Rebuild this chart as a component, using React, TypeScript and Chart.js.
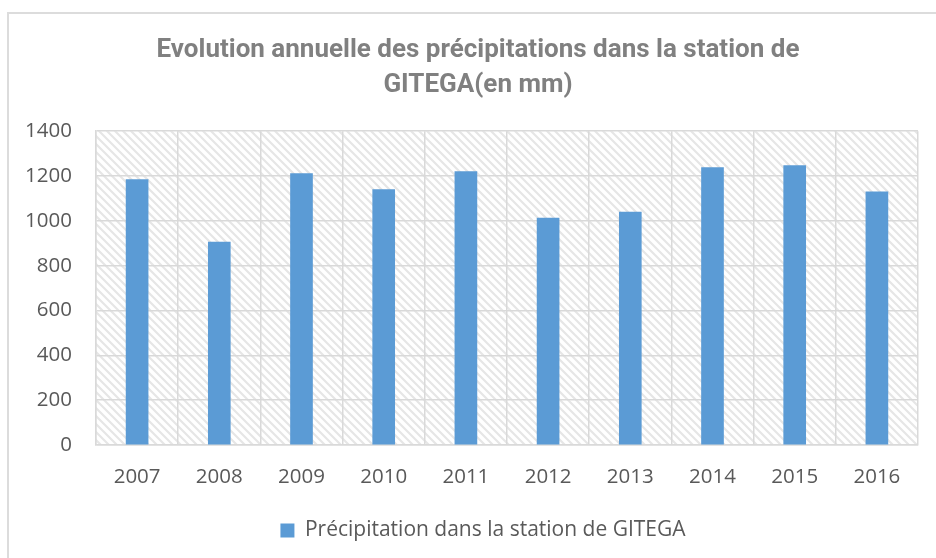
import React, { useEffect, useRef } from "react";
import { Chart, registerables } from "chart.js";

Chart.register(...registerables);

const categories = ["2007", "2008", "2009", "2010", "2011", "2012", "2013", "2014", "2015", "2016"];
const precipitation = [1184, 905, 1211, 1139, 1220, 1012, 1039, 1238, 1247, 1130];
const seriesLabel = "Précipitation dans la station de GITEGA";
const titleLines = ["Evolution annuelle des précipitations dans la station de", "GITEGA(en mm)"];
const yTicks = [0, 200, 400, 600, 800, 1000, 1200, 1400];

function makePattern(): CanvasPattern | string {
  const c = document.createElement("canvas");
  c.width = 8;
  c.height = 8;
  const ctx = c.getContext("2d");
  if (!ctx) return "#ffffff";
  ctx.fillStyle = "#ffffff";
  ctx.fillRect(0, 0, 8, 8);
  ctx.strokeStyle = "#e6e6e6";
  ctx.lineWidth = 2.2;
  ctx.beginPath();
  ctx.moveTo(-2, -2);
  ctx.lineTo(10, 10);
  ctx.moveTo(-2, 6);
  ctx.lineTo(2, 10);
  ctx.moveTo(6, -2);
  ctx.lineTo(10, 2);
  ctx.stroke();
  const p = ctx.createPattern(c, "repeat");
  return p || "#ffffff";
}

const hatchPlugin = {
  id: "hatchBg",
  afterLayout(chart: any) {
    const t = chart.titleBlock;
    if (t) {
      t.left = 38;
      t.right = 918;
    }
    const l = chart.legend;
    if (l) {
      l.left += 24;
      l.right += 24;
    }
  },
  beforeDraw(chart: any) {
    const { ctx, chartArea } = chart;
    if (!chartArea) return;
    ctx.save();
    ctx.fillStyle = makePattern();
    ctx.fillRect(chartArea.left, chartArea.top, chartArea.right - chartArea.left, chartArea.bottom - chartArea.top);
    ctx.restore();
  },
};

const tickFont = { family: "'Open Sans', 'Noto Sans', sans-serif", size: 20.5 };

export default function App() {
  const ref = useRef<HTMLCanvasElement | null>(null);
  useEffect(() => {
    if (!ref.current) return;
    const chart = new Chart(ref.current, {
      type: "bar",
      data: {
        labels: categories,
        datasets: [
          {
            label: seriesLabel,
            data: precipitation,
            backgroundColor: "#5B9BD5",
            borderWidth: 0,
            barThickness: 22,
          },
        ],
      },
      options: {
        animation: false,
        responsive: false,
        layout: { padding: { left: 0, right: 18, top: 0, bottom: 7 } },
        plugins: {
          title: {
            display: true,
            text: titleLines,
            color: "#808080",
            font: { family: "Roboto, 'Liberation Sans', sans-serif", size: 26, weight: "bold", lineHeight: 1.35 },
            padding: { top: 33, bottom: 28 },
          },
          legend: {
            position: "bottom",
            labels: {
              color: "#595959",
              font: { family: "'Open Sans', 'Noto Sans', sans-serif", size: 21 },
              boxWidth: 14,
              boxHeight: 14,
              padding: 8,
            },
          },
          tooltip: { enabled: false },
        },
        scales: {
          x: {
            grid: { color: "#d9d9d9", lineWidth: 1.5, drawTicks: false, offset: true },
            border: { color: "#d9d9d9", width: 1.5 },
            ticks: { color: "#595959", font: tickFont, padding: 20 },
            afterFit(scale: any) {
              scale.height = 67;
            },
          },
          y: {
            min: 0,
            max: 1400,
            grid: { color: "#d9d9d9", lineWidth: 1.5, drawTicks: false },
            border: { color: "#d9d9d9", width: 1.5 },
            afterBuildTicks(scale: any) {
              scale.ticks = yTicks.map((v) => ({ value: v }));
            },
            ticks: {
              color: "#595959",
              font: tickFont,
              padding: 24,
              callback: (v: any) => String(v),
            },
            afterFit(scale: any) {
              scale.width = 96;
            },
          },
        },
      },
      plugins: [hatchPlugin],
    });
    return () => chart.destroy();
  }, []);

  return (
    <div style={{ position: "fixed", left: 0, top: 0, width: 936, height: 558, overflow: "hidden", background: "#fff" }}>
      <div
        style={{
          position: "absolute",
          left: 7,
          top: 12,
          width: 1000,
          height: 1000,
          borderLeft: "2px solid #dcdcdc",
          borderTop: "2px solid #dcdcdc",
        }}
      />
      <canvas ref={ref} width={936} height={558} style={{ position: "absolute", left: 0, top: 0, width: 936, height: 558 }} />
    </div>
  );
}
